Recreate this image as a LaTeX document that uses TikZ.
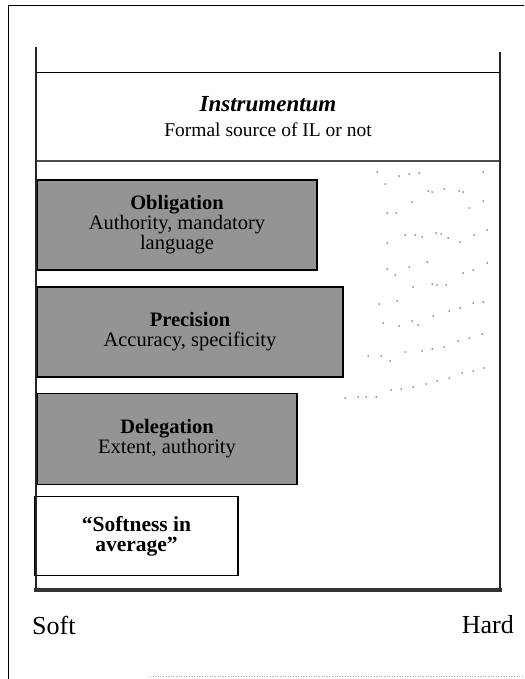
\documentclass[tikz,border=0pt]{standalone}
\usepackage{fontspec}
\setmainfont{Liberation Serif}
\begin{document}
\begin{tikzpicture}[x=1pt,y=-1pt,
  frameline/.style={line width=2.6pt,black!85},
  thinrule/.style={line width=0.9pt,black},
  graybox/.style={draw=black,line width=1.3pt,fill=black!42,inner sep=0pt,
    align=center,font=\fontsize{20.5}{20}\selectfont},
  whitebox/.style={draw=black,line width=1.3pt,fill=white,inner sep=0pt,
    align=center,font=\fontsize{21.5}{20}\selectfont},
  axislabel/.style={inner sep=0pt,font=\fontsize{26}{28}\selectfont},
  bandtext/.style={inner sep=0pt,align=center},
  speck/.style={fill=black!80}]
\useasboundingbox (0,0) rectangle (524,679);
\fill[white] (0,0) rectangle (524,679);

% page frame
\coordinate (pgTR) at (524,5);
\coordinate (pgTL) at (8,5);
\coordinate (pgBL) at (8,679);
\draw[line width=0.8pt] (pgTR) -- (pgTL) -- (pgBL);
\coordinate (pgB1) at (150,676);
\coordinate (pgB2) at (524,676);
\draw[black!35,line width=0.6pt,dotted] (pgB1) -- (pgB2);

% top band: Instrumentum
\node[minimum width=464pt,minimum height=88pt,inner sep=0pt] (instr) at (268,117) {};
\draw[thinrule] (instr.north west) -- (instr.north east);
\draw[line width=2.4pt,black!70] (instr.south west) -- (instr.south east);
\node[bandtext,font=\fontsize{23}{24}\selectfont\bfseries\itshape]
  (instrtitle) at (268,104) {Instrumentum};
\node[bandtext,font=\fontsize{19.5}{22}\selectfont]
  (instrsub) at (268,130) {Formal source of IL or not};

% dimension boxes
\node[graybox,minimum width=280pt,minimum height=90pt] (obl) at (177,225)
  {\textbf{Obligation}\\Authority, mandatory\\language};
\node[graybox,minimum width=306pt,minimum height=90pt] (prec) at (190,332)
  {\textbf{Precision}\\Accuracy, specificity};
\node[graybox,minimum width=260pt,minimum height=91pt] (deleg) at (167,439)
  {\textbf{Delegation}\\Extent, authority};
\node[whitebox,minimum width=203pt,minimum height=79pt] (soft) at (136.5,536)
  {\textbf{``Softness in}\\\textbf{average''}};

% container posts and base
\coordinate (postLtop) at (36,47);
\coordinate (postLbot) at (36,592);
\coordinate (postRtop) at (500,52);
\coordinate (postRbot) at (500,592);
\coordinate (baseL) at (34,590);
\coordinate (baseR) at (502,590);
\draw[frameline] (postLtop) -- (postLbot);
\draw[frameline] (postRtop) -- (postRbot);
\draw[line width=3.2pt,black!80] (baseL) -- (baseR);

% axis labels
\node[axislabel,anchor=west] (softlbl) at (32,625) {Soft};
\node[axislabel,anchor=east] (hardlbl) at (514,625) {Hard};

% scattered dotted traces on the hard side
\foreach \p in {
  (377,172),(399,176),(409,174),(419,173),(483,172),
  (385,184),(428,191),(432,192),(444,189),(459,191),(463,192),
  (412,202),(483,201),(469,208),(387,213),(396,213),
  (487,230),(436,233),(441,234),(448,238),(405,235),(415,235),(422,237),
  (474,235),(387,243),(460,242),(427,262),(409,267),(487,263),
  (387,269),(395,275),(473,270),(463,273),
  (432,284),(437,285),(446,285),(413,287),
  (397,301),(473,303),(483,302),(460,308),(449,311),(379,304),
  (433,316),(412,321),(418,325),(383,323),(399,326),
  (482,334),(469,338),(458,341),(444,347),(432,349),(422,351),(405,352),
  (368,356),(381,356),(390,361),
  (484,368),(473,371),(462,373),(449,378),(437,381),(426,384),(413,387),
  (401,389),(391,390),(376,397),(366,397),(358,397),(345,398)}
  \fill[speck] \p circle (0.75pt);
\end{tikzpicture}
\end{document}
